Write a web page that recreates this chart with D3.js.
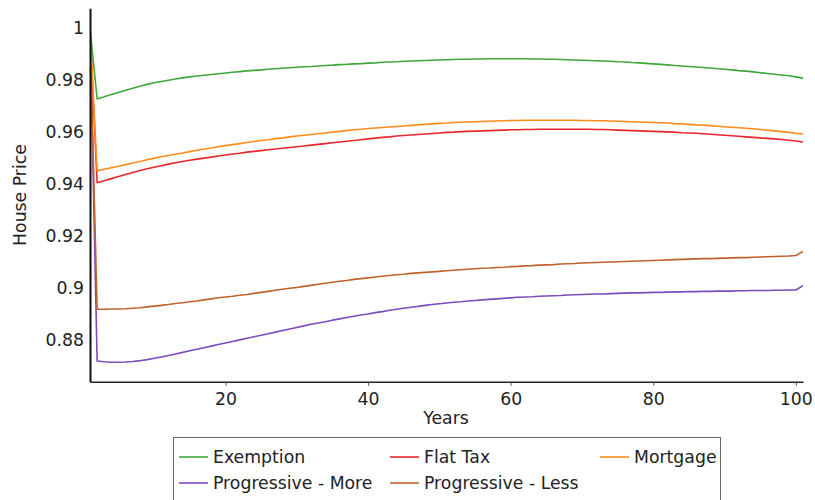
<!DOCTYPE html>
<html>
<head>
<meta charset="utf-8">
<script src="https://cdn.jsdelivr.net/npm/d3@7"></script>
<style>
  html, body { margin: 0; padding: 0; background: #fff; }
  svg { display: block; font-family: "DejaVu Sans", Verdana, sans-serif; }
</style>
</head>
<body>
<svg id="chart" width="815" height="500"></svg>
<script>
const years = d3.range(1, 102);
const seriesNames = ["Exemption", "Flat Tax", "Mortgage", "Progressive - More", "Progressive - Less"];
const seriesColors = ["#3fa73b", "#e8262b", "#ff8c1a", "#7d4bbd", "#c0622b"];
const xTicks = [20, 40, 60, 80, 100];
const yTicks = [0.88, 0.9, 0.92, 0.94, 0.96, 0.98, 1];
const yTickLabels = ["0.88", "0.9", "0.92", "0.94", "0.96", "0.98", "1"];

const exemption = [1.0,0.9728,0.9736,0.9745,0.9753,0.9761,0.9769,0.9777,0.9784,0.9790,
0.9795,0.9800,0.9805,0.9809,0.9813,0.9816,0.9819,0.9822,0.9825,0.9828,
0.9831,0.9833,0.9836,0.9838,0.9840,0.9842,0.9844,0.9846,0.9848,0.9850,
0.9852,0.9853,0.9855,0.9857,0.9858,0.9860,0.9861,0.9863,0.9864,0.9866,
0.9867,0.9869,0.9870,0.9871,0.9873,0.9874,0.9875,0.9876,0.9877,0.9878,
0.9879,0.9880,0.9881,0.9881,0.9882,0.9882,0.9883,0.9883,0.9883,0.9883,
0.9883,0.9883,0.9882,0.9882,0.9881,0.9881,0.9880,0.9879,0.9878,0.9877,
0.9876,0.9875,0.9874,0.9873,0.9871,0.9870,0.9868,0.9867,0.9865,0.9863,
0.9861,0.9859,0.9857,0.9855,0.9853,0.9851,0.9849,0.9847,0.9844,0.9842,
0.9840,0.9837,0.9835,0.9832,0.9829,0.9826,0.9823,0.9820,0.9817,0.9813,0.9808];

const flatTax = [1.0,0.9405,0.9413,0.9421,0.9429,0.9437,0.9445,0.9452,0.9459,0.9465,
0.9471,0.9477,0.9482,0.9487,0.9492,0.9496,0.9500,0.9504,0.9508,0.9512,
0.9516,0.9519,0.9523,0.9526,0.9529,0.9532,0.9535,0.9538,0.9541,0.9544,
0.9547,0.9550,0.9553,0.9556,0.9559,0.9562,0.9565,0.9568,0.9571,0.9574,
0.9577,0.9580,0.9582,0.9585,0.9587,0.9589,0.9591,0.9593,0.9595,0.9597,
0.9599,0.9600,0.9602,0.9603,0.9604,0.9605,0.9606,0.9607,0.9608,0.9609,
0.9609,0.9610,0.9610,0.9611,0.9611,0.9611,0.9611,0.9611,0.9611,0.9611,
0.9611,0.9610,0.9610,0.9609,0.9608,0.9607,0.9606,0.9605,0.9604,0.9603,
0.9602,0.9601,0.9600,0.9598,0.9597,0.9596,0.9594,0.9592,0.9590,0.9588,
0.9586,0.9584,0.9582,0.9580,0.9578,0.9576,0.9574,0.9572,0.9569,0.9566,0.9562];

const mortgage = [1.0,0.9451,0.9457,0.9463,0.9469,0.9475,0.9481,0.9487,0.9494,0.9500,
0.9505,0.9510,0.9515,0.9520,0.9525,0.9530,0.9535,0.9539,0.9544,0.9548,
0.9552,0.9556,0.9560,0.9564,0.9568,0.9571,0.9575,0.9578,0.9582,0.9585,
0.9588,0.9591,0.9594,0.9597,0.9600,0.9603,0.9606,0.9609,0.9611,0.9614,
0.9616,0.9618,0.9620,0.9622,0.9624,0.9626,0.9628,0.9630,0.9632,0.9634,
0.9635,0.9637,0.9638,0.9639,0.9640,0.9641,0.9642,0.9643,0.9644,0.9645,
0.9645,0.9646,0.9646,0.9646,0.9646,0.9646,0.9646,0.9646,0.9646,0.9645,
0.9645,0.9644,0.9644,0.9643,0.9642,0.9641,0.9640,0.9639,0.9638,0.9637,
0.9636,0.9635,0.9633,0.9632,0.9630,0.9628,0.9627,0.9625,0.9623,0.9621,
0.9619,0.9617,0.9615,0.9613,0.9610,0.9608,0.9605,0.9602,0.9599,0.9596,0.9593];

const progressiveMore = [1.0,0.8719,0.8716,0.8714,0.8714,0.8715,0.8717,0.8720,0.8724,0.8729,
0.8734,0.8740,0.8746,0.8752,0.8758,0.8764,0.8770,0.8776,0.8782,0.8788,
0.8794,0.8800,0.8806,0.8812,0.8818,0.8824,0.8830,0.8836,0.8842,0.8848,
0.8854,0.8860,0.8865,0.8870,0.8876,0.8881,0.8886,0.8891,0.8896,0.8900,
0.8905,0.8909,0.8914,0.8918,0.8922,0.8926,0.8929,0.8933,0.8936,0.8939,
0.8942,0.8945,0.8947,0.8950,0.8952,0.8954,0.8956,0.8958,0.8960,0.8962,
0.8964,0.8965,0.8966,0.8968,0.8969,0.8970,0.8971,0.8973,0.8974,0.8975,
0.8976,0.8977,0.8977,0.8978,0.8979,0.8980,0.8981,0.8981,0.8982,0.8983,
0.8983,0.8984,0.8985,0.8985,0.8986,0.8986,0.8987,0.8987,0.8988,0.8988,
0.8988,0.8989,0.8989,0.8990,0.8990,0.8990,0.8991,0.8991,0.8992,0.8992,0.9009];

const progressiveLess = [1.0,0.8918,0.8918,0.8919,0.8919,0.8920,0.8922,0.8924,0.8927,0.8930,
0.8933,0.8936,0.8940,0.8943,0.8947,0.8950,0.8954,0.8958,0.8962,0.8965,
0.8968,0.8972,0.8975,0.8979,0.8983,0.8987,0.8991,0.8995,0.8999,0.9002,
0.9006,0.9010,0.9014,0.9018,0.9022,0.9026,0.9029,0.9033,0.9036,0.9039,
0.9042,0.9045,0.9048,0.9051,0.9053,0.9056,0.9058,0.9060,0.9062,0.9064,
0.9066,0.9068,0.9070,0.9072,0.9074,0.9076,0.9077,0.9079,0.9080,0.9082,
0.9083,0.9085,0.9086,0.9088,0.9089,0.9090,0.9092,0.9093,0.9094,0.9096,
0.9097,0.9098,0.9099,0.9100,0.9101,0.9102,0.9103,0.9104,0.9105,0.9106,
0.9107,0.9108,0.9109,0.9110,0.9111,0.9112,0.9113,0.9113,0.9114,0.9115,
0.9116,0.9117,0.9117,0.9118,0.9119,0.9120,0.9121,0.9122,0.9123,0.9125,0.9141];

const seriesValues = [exemption, flatTax, mortgage, progressiveMore, progressiveLess];

const svg = d3.select("#chart");
const plotLeft = 90, plotRight = 803, plotTop = 8.3, plotBottom = 381.7;
const fontSize = 17.3;

const x = d3.scaleLinear().domain([1, 101]).range([plotLeft, plotRight]);
const y = d3.scaleLinear().domain([0.8639, 1.0077]).range([plotBottom, plotTop]);

// lines
const line = d3.line().x((d, i) => x(years[i])).y(d => y(d));
svg.append("clipPath").attr("id", "plotclip")
  .append("rect").attr("x", plotLeft).attr("y", plotTop).attr("width", plotRight - plotLeft).attr("height", plotBottom - plotTop);

const g = svg.append("g").attr("clip-path", "url(#plotclip)");
const order = [3, 4, 1, 2, 0];
order.forEach(k => {
  g.append("path")
    .datum(seriesValues[k])
    .attr("d", line)
    .attr("fill", "none")
    .attr("stroke", seriesColors[k])
    .attr("stroke-width", 1.6)
    .attr("stroke-linejoin", "round");
});

// x axis
const xAxis = d3.axisBottom(x).tickValues(xTicks).tickSize(4).tickSizeOuter(0).tickFormat(d3.format("d"));
const gx = svg.append("g").attr("transform", `translate(0,${plotBottom})`).call(xAxis);
gx.select(".domain").attr("stroke", "#222").attr("stroke-width", 1.6);
gx.selectAll(".tick line").attr("stroke", "#555");
gx.selectAll(".tick text").attr("font-size", fontSize).attr("fill", "#222").attr("font-family", "DejaVu Sans").attr("dy", "0.95em");

// y axis
const yAxis = d3.axisLeft(y).tickValues(yTicks).tickSize(0).tickSizeOuter(0)
  .tickFormat((d, i) => yTickLabels[i]);
const gy = svg.append("g").attr("transform", `translate(${plotLeft},0)`).call(yAxis);
gy.select(".domain").attr("stroke", "#111").attr("stroke-width", 2);
gy.selectAll(".tick text").attr("font-size", fontSize).attr("fill", "#222").attr("font-family", "DejaVu Sans").attr("x", -6);

// axis titles
svg.append("text").attr("x", 446).attr("y", 424).attr("text-anchor", "middle")
  .attr("font-size", fontSize).attr("fill", "#222").text("Years");
svg.append("text").attr("transform", "translate(26,195) rotate(-90)").attr("text-anchor", "middle")
  .attr("font-size", fontSize).attr("fill", "#222").text("House Price");

// legend
const legend = svg.append("g");
legend.append("rect").attr("x", 173.5).attr("y", 437.5).attr("width", 547).attr("height", 64)
  .attr("fill", "#fff").attr("stroke", "#666").attr("stroke-width", 1);
const colX = [179, 390, 600];
const rowY = [457, 483];
seriesNames.forEach((name, i) => {
  const cx = colX[i % 3], cy = rowY[Math.floor(i / 3)];
  legend.append("line").attr("x1", cx).attr("x2", cx + 29).attr("y1", cy).attr("y2", cy)
    .attr("stroke", seriesColors[i]).attr("stroke-width", 1.6);
  legend.append("text").attr("x", cx + 34).attr("y", cy).attr("dy", "0.35em")
    .attr("font-size", fontSize).attr("fill", "#222").text(name);
});
</script>
</body>
</html>
